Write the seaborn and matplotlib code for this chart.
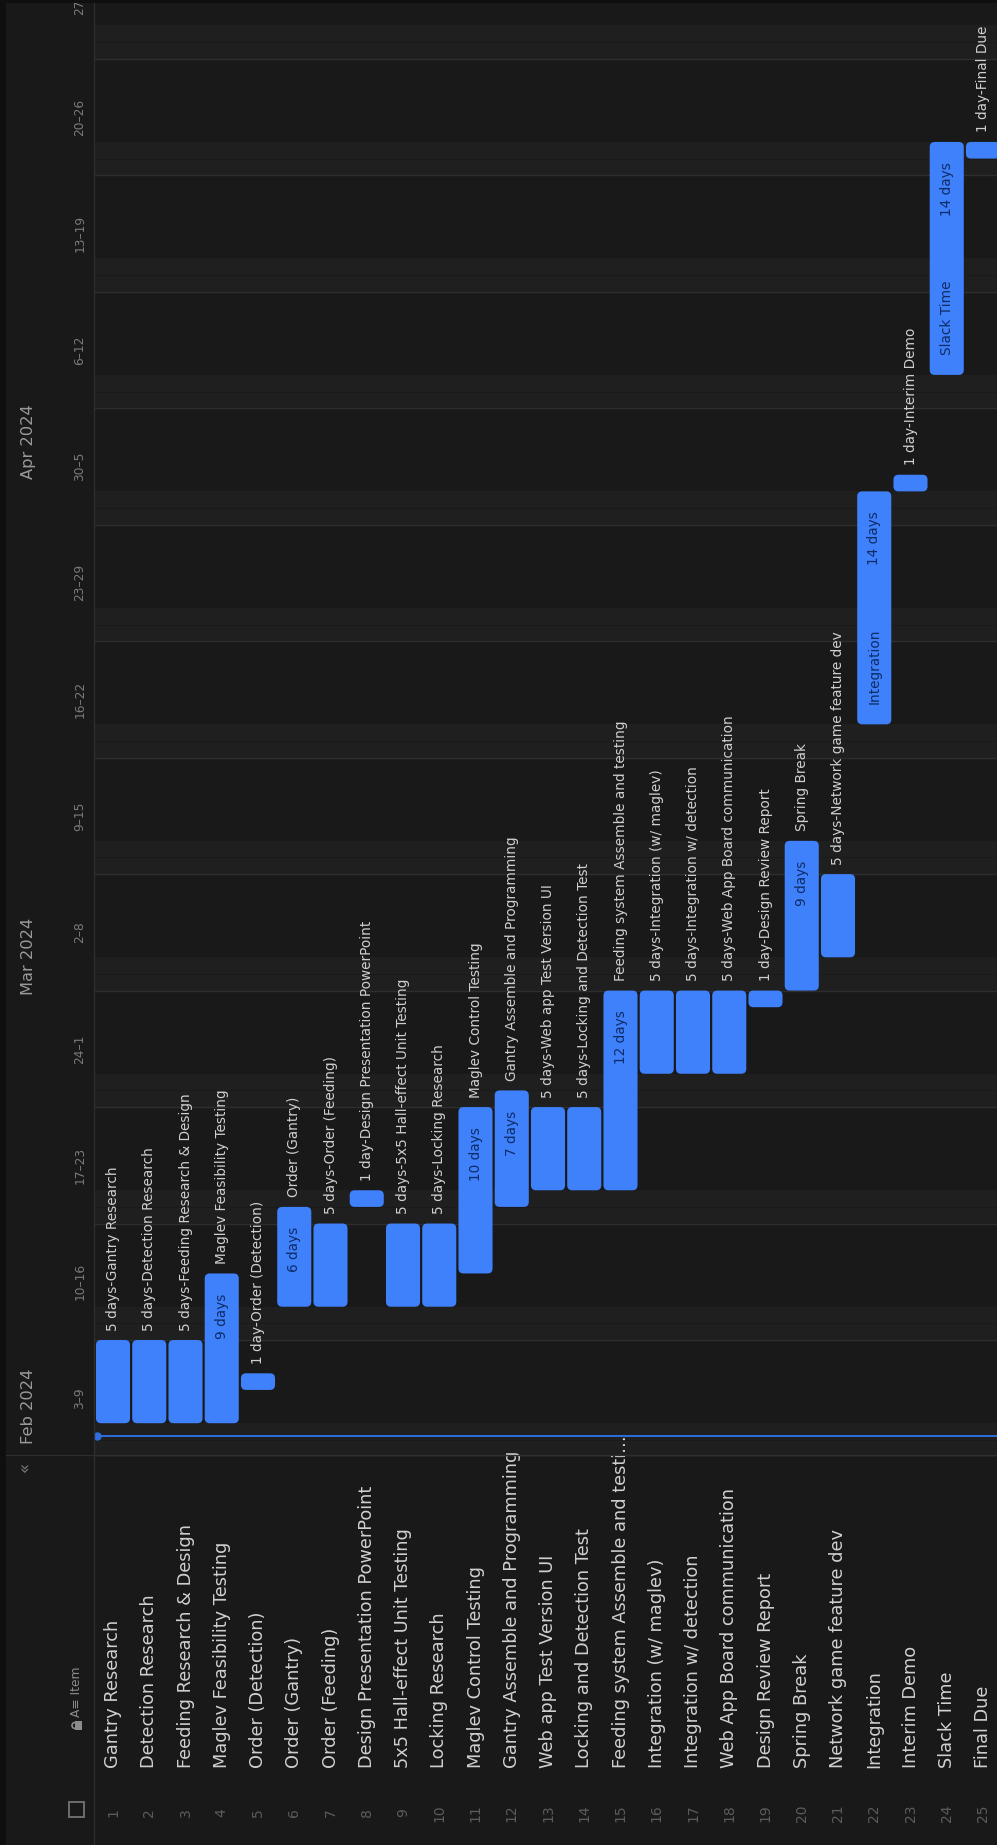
"""Project timeline (Notion-style Gantt), drawn rotated: rows run left to right,
time runs bottom to top. Bars come from seaborn.barplot with a ``bottom`` offset,
then get swapped for rounded patches."""

import matplotlib

matplotlib.use("Agg")
import matplotlib.pyplot as plt
import numpy as np
import pandas as pd
import seaborn as sns
from matplotlib.lines import Line2D
from matplotlib.patches import Arc, FancyBboxPatch, Rectangle

# ---------- data ----------

TASKS = [
    "Gantry Research",
    "Detection Research",
    "Feeding Research & Design",
    "Maglev Feasibility Testing",
    "Order (Detection)",
    "Order (Gantry)",
    "Order (Feeding)",
    "Design Presentation PowerPoint",
    "5x5 Hall-effect Unit Testing",
    "Locking Research",
    "Maglev Control Testing",
    "Gantry Assemble and Programming",
    "Web app Test Version UI",
    "Locking and Detection Test",
    "Feeding system Assemble and testing",
    "Integration (w/ maglev)",
    "Integration w/ detection",
    "Web App Board communication",
    "Design Review Report",
    "Spring Break",
    "Network game feature dev",
    "Integration",
    "Interim Demo",
    "Slack Time",
    "Final Due",
]
START = [
    "2024-02-05", "2024-02-05", "2024-02-05", "2024-02-05", "2024-02-07",
    "2024-02-12", "2024-02-12", "2024-02-18", "2024-02-12", "2024-02-12",
    "2024-02-14", "2024-02-18", "2024-02-19", "2024-02-19", "2024-02-19",
    "2024-02-26", "2024-02-26", "2024-02-26", "2024-03-01", "2024-03-02",
    "2024-03-04", "2024-03-18", "2024-04-01", "2024-04-08", "2024-04-21",
]
DURATION = [5, 5, 5, 9, 1, 6, 5, 1, 5, 5, 10, 7, 5, 5, 12, 5, 5, 5, 1, 9, 5, 14, 1, 14, 1]

ORIGIN = "2024-02-03"  # first visible day (a Saturday)
TODAY = "2024-02-04 05:00"
MONTHS = ["Feb 2024", "Mar 2024", "Apr 2024"]
MONTH_START = ["2024-02-01", "2024-03-01", "2024-04-01"]
WEEK_LABELS = ["3–9", "10–16", "17–23", "24–1", "2–8", "9–15", "16–22",
               "23–29", "30–5", "6–12", "13–19", "20–26", "27–3"]

# ---------- look ----------

BG = "#191919"
BAND = "#1f1f1f"
WEEKLINE = "#2e2e2e"
DIVIDER = "#2f2f2f"
BLUE = "#3f80fb"
TODAY_BLUE = "#2f6ee0"
LABEL = "#d0d0d0"
INNER = "#0e2c66"

W, H = 997, 1845
ROW0, ROW_PITCH = 113.0, 36.25  # x pixel of first row centre, row pitch
DAY0_Y, DAY_PX = 1456.5, 16.64  # y pixel of origin day, pixels per day
HEAD_X, EDGE_L, EDGE_T = 94, 6, 3

sns.set_theme(style="dark", rc={"axes.facecolor": BG, "figure.facecolor": BG})
plt.rcParams["font.family"] = ["DejaVu Sans"]


def fig_rect(x0, y0, x1, y1):
    return [x0 / W, 1 - y1 / H, (x1 - x0) / W, (y1 - y0) / H]


origin = pd.Timestamp(ORIGIN)
one_day = pd.Timedelta(days=1)
df = pd.DataFrame({"task": TASKS, "days": DURATION})
df["start"] = [(pd.Timestamp(s) - origin) / one_day for s in START]
df["end"] = df["start"] + df["days"]
today = (pd.Timestamp(TODAY) - origin) / one_day

fig = plt.figure(figsize=(W / 100, H / 100), dpi=100)
ax = fig.add_axes(fig_rect(HEAD_X, EDGE_T, W, DAY0_Y))
ax_head = fig.add_axes(fig_rect(EDGE_L, EDGE_T, HEAD_X, DAY0_Y))
ax_tab = fig.add_axes(fig_rect(EDGE_L, DAY0_Y, W, H))

# ---------- bars ----------

sns.barplot(data=df, x="task", y="days", bottom=df["start"].to_numpy(),
            color=BLUE, saturation=1, width=0.94, errorbar=None, ax=ax, zorder=3)

xlim = ((HEAD_X - ROW0) / ROW_PITCH, (W - ROW0) / ROW_PITCH)
ylim = (0, (DAY0_Y - EDGE_T) / DAY_PX)
ax.set_xlim(*xlim)
ax.set_ylim(*ylim)
ax.set_axis_off()

aspect = ROW_PITCH / DAY_PX
radius = 5 / ROW_PITCH
for p in list(ax.containers[0]):
    ax.add_patch(FancyBboxPatch(
        (p.get_x(), p.get_y()), p.get_width(), p.get_height(),
        boxstyle=f"round,pad=0,rounding_size={radius}", mutation_aspect=aspect,
        fc=BLUE, ec="none", zorder=3))
    p.remove()

# weekends + week lines
for sat in np.arange(0, ylim[1] + 7, 7):
    ax.axhspan(sat, sat + 2, color=BAND, lw=0, zorder=0)
    ax.axhline(sat, color=WEEKLINE, lw=1.0, zorder=1)
    ax.axhline(sat + 1, color="#1a1a1a", lw=0.7, zorder=1)

# today marker
x_dot = xlim[0] + 3 / ROW_PITCH
ax.plot([x_dot, xlim[1]], [today, today], color=TODAY_BLUE, lw=1.4, zorder=4)
ax.plot([x_dot], [today], "o", ms=5, color=TODAY_BLUE, zorder=5)

# bar labels
out_gap = 9.5 / DAY_PX
in_gap = 20 / DAY_PX
txt = dict(rotation=90, rotation_mode="anchor", va="center", zorder=6)
for i, row in df.iterrows():
    n = int(row["days"])
    dur = f"{n} day" if n == 1 else f"{n} days"
    if n <= 5:
        ax.text(i, row["end"] + out_gap, f"{dur}-{row['task']}", ha="left",
                color=LABEL, fontsize=9.8, **txt)
    elif n < 14:
        ax.text(i, row["end"] - in_gap, dur, ha="right", color=INNER,
                fontsize=9.8, **txt)
        ax.text(i, row["end"] + out_gap, row["task"], ha="left", color=LABEL,
                fontsize=9.8, **txt)
    else:
        ax.text(i, row["end"] - in_gap, dur, ha="right", color=INNER,
                fontsize=9.8, **txt)
        ax.text(i, row["start"] + in_gap, row["task"], ha="left", color=INNER,
                fontsize=9.8, **txt)

# ---------- month / week header ----------

ax_head.set_xlim(EDGE_L, HEAD_X)
ax_head.set_ylim(*ylim)
ax_head.set_axis_off()
for name, ms in zip(MONTHS, MONTH_START):
    d = max((pd.Timestamp(ms) - origin) / one_day, 0) + 0.75
    ax_head.text(28, d, name, ha="left", color="#9a9a9a", fontsize=11.7, **txt)
for k, lab in enumerate(WEEK_LABELS):
    ax_head.text(80, k * 7 + 3.5, lab, ha="center", color="#7b7b7b",
                 fontsize=8.8, clip_on=False, **txt)

# ---------- table ----------

ax_tab.set_xlim((EDGE_L - ROW0) / ROW_PITCH, xlim[1])
ax_tab.set_ylim(H, DAY0_Y)
ax_tab.set_axis_off()
for i, name in enumerate(TASKS):
    shown = name if len(name) <= 33 else name[:33] + "…"
    ax_tab.text(i, 1768, shown, ha="left", color=LABEL, fontsize=12.8, **txt)
    ax_tab.text(i, 1813, str(i + 1), ha="center", color="#5c5c5c",
                fontsize=10, **txt)

head_x = (76 - ROW0) / ROW_PITCH
ax_tab.text(head_x, 1717, "A≡ Item", ha="left", color="#8c8c8c", fontsize=8.8, **txt)
px = 1 / ROW_PITCH
ax_tab.add_patch(Rectangle((head_x - 1 * px, 1721), 7 * px, 9, fc="#8c8c8c", ec="none"))
ax_tab.add_patch(Arc((head_x - 1 * px, 1725.5), 6 * px, 6, theta1=90, theta2=270,
                     color="#8c8c8c", lw=1.2))
ax_tab.add_patch(Rectangle((head_x - 7.5 * px, 1802), 15 * px, 15, fc="none",
                           ec="#6e6e6e", lw=1.4))
ax_tab.text((25 - ROW0) / ROW_PITCH, 1467, "«", ha="center", color="#7a7a7a",
            fontsize=12, **txt)

# ---------- frame lines ----------

fig.add_artist(Line2D([HEAD_X / W] * 2, [0, 1 - EDGE_T / H], color=DIVIDER, lw=0.9))
fig.add_artist(Line2D([EDGE_L / W, 1], [1 - 1455 / H] * 2, color=DIVIDER, lw=0.9))
fig.add_artist(Rectangle((0, 0), EDGE_L / W, 1, transform=fig.transFigure,
                         fc="#0f0f0f", ec="none"))
fig.add_artist(Rectangle((0, 1 - EDGE_T / H), 1, EDGE_T / H,
                         transform=fig.transFigure, fc="#0f0f0f", ec="none"))

fig.savefig("out.png", dpi=100, facecolor=BG)
